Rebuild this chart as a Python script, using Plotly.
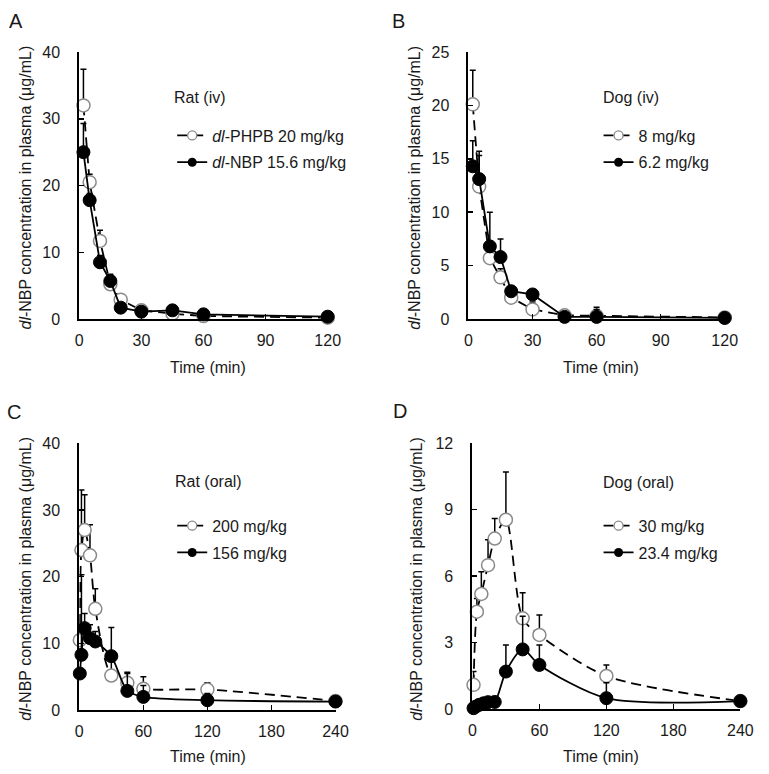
import plotly.graph_objects as go

W, H = 769, 774
FONT = "Liberation Sans, Arial, sans-serif"
TXT = "#1a1a1a"
FS = 16

# ---------------- data ----------------
# Panel A: Rat (iv)
a_time = [2, 5, 10, 15, 20, 30, 45, 60, 120]
a_phpb = [32.0, 20.5, 11.7, 5.2, 2.9, 1.3, 0.8, 0.45, 0.2]
a_phpb_err = [5.4, 1.2, 1.6, 0.8, 0.6, 0.4, 0.3, 0.2, 0.1]
a_nbp = [25.0, 17.8, 8.5, 5.7, 1.7, 1.1, 1.3, 0.7, 0.35]
a_nbp_err = [4.3, 1.0, 1.0, 1.0, 0.5, 0.3, 0.3, 0.2, 0.1]

# Panel B: Dog (iv)
b_time = [2, 5, 10, 15, 20, 30, 45, 60, 120]
b_phpb = [20.1, 12.4, 5.7, 3.9, 2.0, 0.9, 0.35, 0.3, 0.15]
b_phpb_err = [3.2, 3.3, 1.6, 0.8, 0.4, 0.7, 0.3, 0.8, 0.5]
b_nbp = [14.3, 13.1, 6.8, 5.8, 2.6, 2.3, 0.2, 0.2, 0.1]
b_nbp_err = [2.4, 2.2, 3.2, 1.7, 0.4, 0.3, 0.3, 0.7, 0.5]

# Panel C: Rat (oral)
c_time = [0.5, 2, 5, 10, 15, 30, 45, 60, 120, 240]
c_phpb = [10.5, 24.0, 27.0, 23.2, 15.2, 5.2, 4.1, 3.2, 3.1, 1.4]
c_phpb_err = [0.6, 9.0, 5.3, 4.6, 3.0, 2.5, 1.6, 1.8, 1.0, 0.3]
c_nbp = [5.5, 8.3, 12.3, 10.8, 10.3, 8.1, 2.9, 2.0, 1.5, 1.3]
c_nbp_err = [0.5, 12.0, 2.2, 2.0, 1.5, 4.3, 2.6, 1.7, 1.0, 0.5]

# Panel D: Dog (oral)
d_time_phpb = [1, 4, 8, 14, 20, 30, 45, 60, 120, 240]
d_phpb = [1.1, 4.4, 5.2, 6.5, 7.7, 8.55, 4.1, 3.35, 1.5, 0.37]
d_phpb_err = [0.6, 0.6, 1.0, 1.15, 0.9, 2.15, 1.15, 0.9, 0.5, 0.05]
d_time_nbp = [1, 3, 6, 10, 14, 20, 30, 45, 60, 120, 240]
d_nbp = [0.05, 0.12, 0.2, 0.27, 0.32, 0.33, 1.7, 2.7, 2.0, 0.5, 0.37]
d_nbp_err = [0.02, 0.03, 0.05, 0.05, 0.05, 0.05, 1.2, 1.5, 0.9, 0.7, 0.05]

panel_letters = ["A", "B", "C", "D"]
panel_titles = ["Rat (iv)", "Dog (iv)", "Rat (oral)", "Dog (oral)"]
legend_open = ["<i>dl</i>-PHPB 20 mg/kg", "8 mg/kg", "200 mg/kg", "30 mg/kg"]
legend_filled = ["<i>dl</i>-NBP 15.6 mg/kg", "6.2 mg/kg", "156 mg/kg", "23.4 mg/kg"]
x_ticks = [[0, 30, 60, 90, 120], [0, 30, 60, 90, 120],
           [0, 60, 120, 180, 240], [0, 60, 120, 180, 240]]
y_ticks = [[0, 10, 20, 30, 40], [0, 5, 10, 15, 20, 25],
           [0, 10, 20, 30, 40], [0, 3, 6, 9, 12]]
x_title = "Time (min)"
y_title = "<i>dl</i>-NBP concentration in plasma (μg/mL)"

series = [
    (a_time, a_phpb, a_phpb_err, a_time, a_nbp, a_nbp_err),
    (b_time, b_phpb, b_phpb_err, b_time, b_nbp, b_nbp_err),
    (c_time, c_phpb, c_phpb_err, c_time, c_nbp, c_nbp_err),
    (d_time_phpb, d_phpb, d_phpb_err, d_time_nbp, d_nbp, d_nbp_err),
]

# ---------------- layout geometry (pixels) ----------------
boxes = [(77, 331, 45, 318), (475, 737, 45, 318),
         (77, 339, 445, 718), (479, 753, 445, 717)]
letter_pos = [(12, 13), (403, 13), (10, 413), (405, 412)]
ytitle_pos = [(22, 184), (420, 184), (22, 584), (421, 584)]
xtitle_pos = [(209, 368), (610, 368), (209, 765), (610, 765)]
legend_title_pos = [(172, 91), (610, 91), (173, 484), (611, 485)]
legend_pos = [(172, 113), (608, 113), (172, 512), (608, 512)]
line_shapes = ["linear", "linear", "spline", "spline"]


def px(x):
    return x / W


def py(y):
    return 1 - y / H


fig = go.Figure()
layout = dict(
    width=W, height=H, autosize=False,
    margin=dict(l=0, r=0, t=0, b=0),
    paper_bgcolor="white", plot_bgcolor="white",
    font=dict(family=FONT, size=FS, color=TXT),
    showlegend=True,
)
annotations = []

for i in range(4):
    sfx = "" if i == 0 else str(i + 1)
    xa, ya = "x" + sfx, "y" + sfx
    lg = "legend" + sfx
    l, r, t, b = boxes[i]
    tx1, y1, e1, tx2, y2, e2 = series[i]
    ymax = y_ticks[i][-1]
    xmax = x_ticks[i][-1]

    fig.add_trace(go.Scatter(
        x=tx1, y=y1, xaxis=xa, yaxis=ya, mode="lines+markers",
        line=dict(color="black", width=1.8, dash="10px,6px", shape=line_shapes[i], smoothing=0.8),
        marker=dict(symbol="circle", size=13, color="white",
                    line=dict(color="#8a8a8a", width=1.5)),
        error_y=dict(type="data", array=e1, arrayminus=[0] * len(e1), symmetric=False,
                     color="black", thickness=1.5, width=3),
        cliponaxis=False, showlegend=False))
    fig.add_trace(go.Scatter(
        x=tx2, y=y2, xaxis=xa, yaxis=ya, mode="lines+markers",
        line=dict(color="black", width=1.8, shape=line_shapes[i], smoothing=0.8),
        marker=dict(symbol="circle", size=13, color="black",
                    line=dict(color="black", width=1)),
        error_y=dict(type="data", array=e2, arrayminus=[0] * len(e2), symmetric=False,
                     color="black", thickness=1.5, width=3),
        cliponaxis=False, showlegend=False))
    fig.add_trace(go.Scatter(
        x=[None], y=[None], xaxis=xa, yaxis=ya, mode="lines+markers",
        name=legend_open[i], legend=lg, legendgroup="o%d" % i,
        line=dict(color="black", width=1.8, dash="10px,6px"),
        marker=dict(symbol="circle", size=9, color="white",
                    line=dict(color="#8a8a8a", width=1.3))))
    fig.add_trace(go.Scatter(
        x=[None], y=[None], xaxis=xa, yaxis=ya, mode="lines+markers",
        name=legend_filled[i], legend=lg, legendgroup="f%d" % i,
        line=dict(color="black", width=1.8),
        marker=dict(symbol="circle", size=9, color="black")))

    axis_common = dict(
        showline=True, linecolor="black", linewidth=2, mirror=False,
        ticks="inside", ticklen=5, tickwidth=1.5, tickcolor="black",
        showgrid=False, zeroline=False, tickfont=dict(size=FS, color=TXT),
    )
    layout["xaxis" + sfx] = dict(
        axis_common, domain=[px(l), px(r)], range=[0, xmax],
        tickvals=x_ticks[i], anchor=ya, ticklabelstandoff=6)
    layout["yaxis" + sfx] = dict(
        axis_common, domain=[py(b), py(t)], range=[0, ymax],
        tickvals=y_ticks[i], anchor=xa, ticklabelstandoff=14)
    lx, ly = legend_pos[i]
    layout[lg] = dict(
        x=px(lx), y=py(ly), xanchor="left", yanchor="top",
        bgcolor="rgba(0,0,0,0)", font=dict(size=FS, color=TXT),
        traceorder="grouped", tracegroupgap=3, itemsizing="trace",
        itemclick=False)

    annotations.append(dict(
        text=panel_letters[i], x=px(letter_pos[i][0]), y=py(letter_pos[i][1]),
        xref="paper", yref="paper", showarrow=False, xanchor="center", yanchor="middle",
        font=dict(size=20, color=TXT)))
    annotations.append(dict(
        text=y_title, x=px(ytitle_pos[i][0]), y=py(ytitle_pos[i][1]),
        xref="paper", yref="paper", showarrow=False, xanchor="center", yanchor="middle",
        textangle=-90, font=dict(size=FS, color=TXT)))
    annotations.append(dict(
        text=x_title, x=px(xtitle_pos[i][0]), y=py(xtitle_pos[i][1]),
        xref="paper", yref="paper", showarrow=False, xanchor="center", yanchor="middle",
        font=dict(size=FS, color=TXT)))
    annotations.append(dict(
        text=panel_titles[i], x=px(legend_title_pos[i][0]), y=py(legend_title_pos[i][1]),
        xref="paper", yref="paper", showarrow=False, xanchor="left", yanchor="middle",
        font=dict(size=FS, color=TXT)))

layout["annotations"] = annotations
fig.update_layout(**layout)
fig.write_html(
    "out.html",
    config={"displayModeBar": False, "staticPlot": True},
    post_script=("document.documentElement.style.margin='0';"
                 "document.documentElement.style.overflow='hidden';"
                 "document.body.style.margin='0';"
                 "document.body.style.overflow='hidden';"),
)
